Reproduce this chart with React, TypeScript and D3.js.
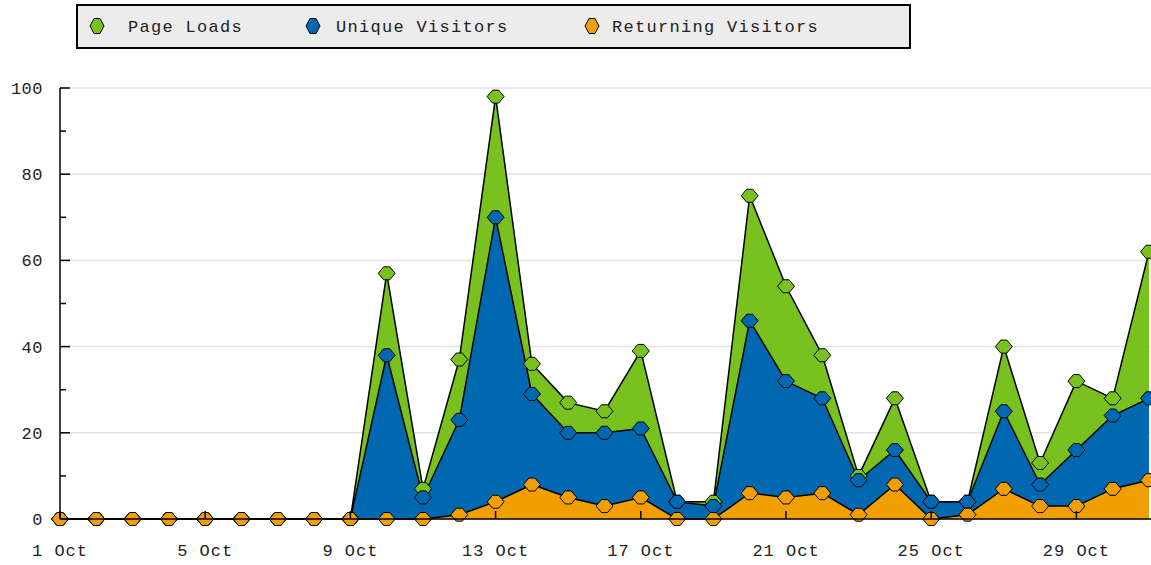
import * as d3 from "d3";

const days = d3.range(1, 32);
const pageLoads = [0, 0, 0, 0, 0, 0, 0, 0, 0, 57, 7, 37, 98, 36, 27, 25, 39, 4, 4, 75, 54, 38, 10, 28, 4, 4, 40, 13, 32, 28, 62];
const uniqueVisitors = [0, 0, 0, 0, 0, 0, 0, 0, 0, 38, 5, 23, 70, 29, 20, 20, 21, 4, 3, 46, 32, 28, 9, 16, 4, 4, 25, 8, 16, 24, 28];
const returningVisitors = [0, 0, 0, 0, 0, 0, 0, 0, 0, 0, 0, 1, 4, 8, 5, 3, 5, 0, 0, 6, 5, 6, 1, 8, 0, 1, 7, 3, 3, 7, 9];
const xTickDays = [1, 5, 9, 13, 17, 21, 25, 29];
const yMajor = [0, 20, 40, 60, 80, 100];
const yMinor = [10, 30, 50, 70, 90];

const series = [
  { name: "Page Loads", values: pageLoads, color: "#78c11f" },
  { name: "Unique Visitors", values: uniqueVisitors, color: "#0067b1" },
  { name: "Returning Visitors", values: returningVisitors, color: "#f09e00" },
];

const W = 1151;
const H = 565;
const FONT = "'Liberation Mono', 'DejaVu Sans Mono', monospace";

const x = d3.scaleLinear().domain([1, 31]).range([60, 1149]);
const y = d3.scaleLinear().domain([0, 100]).range([519, 88]);

// rounded diamond marker
const marker = "M-8.5,0 L-3,-6.5 L3,-6.5 L8.5,0 L3,6.5 L-3,6.5 Z";

export default function App() {
  const area = d3.area<number>()
    .x((_, i) => x(days[i]))
    .y0(y(0))
    .y1((d) => y(d));
  const line = d3.line<number>()
    .x((_, i) => x(days[i]))
    .y((d) => y(d));

  const legendMarkerX = [97, 313, 592];
  const legendTextX = [128, 336, 612];

  return (
    <svg width={W} height={H} style={{ position: "absolute", left: 0, top: 0, background: "#fff" }}>
      {/* grid */}
      {yMajor.map((v) => (
        <line key={"g" + v} x1={x(1)} x2={W} y1={y(v)} y2={y(v)} stroke="#e2e2e2" strokeWidth={1.5} />
      ))}

      {/* areas */}
      {series.map((s) => (
        <path key={"a" + s.name} d={area(s.values) || ""} fill={s.color} />
      ))}
      {series.map((s) => (
        <path key={"l" + s.name} d={line(s.values) || ""} fill="none" stroke="#000" strokeWidth={1.5} strokeLinejoin="round" />
      ))}

      {/* markers */}
      {series.map((s) => (
        <g key={"m" + s.name}>
          {s.values.map((v, i) => (
            <path key={i} d={marker} transform={`translate(${x(days[i])},${y(v)})`} fill={s.color} stroke="#000" strokeWidth={1} />
          ))}
        </g>
      ))}

      {/* y axis */}
      <line x1={x(1)} x2={x(1)} y1={y(100)} y2={y(0)} stroke="#000" strokeWidth={1.5} />
      {yMajor.map((v) => (
        <g key={"yt" + v}>
          <line x1={x(1)} x2={x(1) + 10} y1={y(v)} y2={y(v)} stroke="#000" strokeWidth={1.5} />
          <text x={43} y={y(v)} dy="0.35em" textAnchor="end" fontFamily={FONT} fontSize={17} letterSpacing={0.5} fill="#222">
            {v}
          </text>
        </g>
      ))}
      {yMinor.map((v) => (
        <line key={"ym" + v} x1={x(1)} x2={x(1) + 6} y1={y(v)} y2={y(v)} stroke="#000" strokeWidth={1.5} />
      ))}

      {/* x axis */}
      <line x1={x(1)} x2={W} y1={y(0)} y2={y(0)} stroke="#000" strokeWidth={1.5} />
      {xTickDays.map((d) => (
        <g key={"xt" + d}>
          <line x1={x(d)} x2={x(d)} y1={y(0)} y2={y(0) - 8} stroke="#000" strokeWidth={1.5} />
          <text x={x(d)} y={556} textAnchor="middle" fontFamily={FONT} fontSize={17} letterSpacing={1} fill="#222">
            {d} Oct
          </text>
        </g>
      ))}

      {/* legend */}
      <rect x={77} y={5} width={833} height={43} fill="#ececec" stroke="#000" strokeWidth={2} />
      {series.map((s, i) => (
        <g key={"lg" + s.name}>
          <path d="M-7,0 L-3,-7.5 L3,-7.5 L7,0 L3,7.5 L-3,7.5 Z" transform={`translate(${legendMarkerX[i]},26)`} fill={s.color} stroke="#000" strokeWidth={1} />
          <text x={legendTextX[i]} y={26} dy="0.35em" fontFamily={FONT} fontSize={17} letterSpacing={1.3} fill="#222">
            {s.name}
          </text>
        </g>
      ))}
    </svg>
  );
}
